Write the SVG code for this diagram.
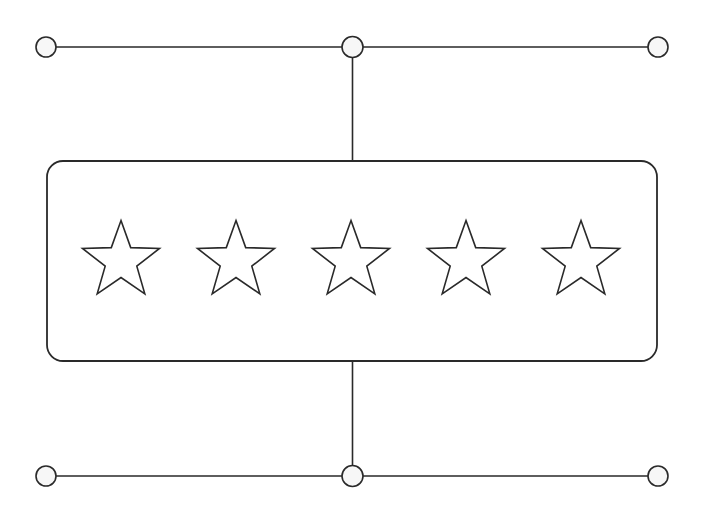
<svg xmlns="http://www.w3.org/2000/svg" width="706" height="523" viewBox="0 0 706 523">
<style>
.ln{stroke:#2a2a2a;stroke-width:1.6;fill:none;stroke-linecap:round}
.nd{stroke:#2a2a2a;stroke-width:1.6;fill:#f7f7f7}
.box{stroke:#2a2a2a;stroke-width:1.8;fill:#ffffff}
.star{stroke:#2a2a2a;stroke-width:1.6;fill:#ffffff;stroke-linejoin:miter}
</style>
<defs>
<path id="s" d="M0,-40.5 L9.7,-13.4 L38.5,-12.5 L15.8,5.1 L23.8,32.8 L0,16.5 L-23.8,32.8 L-15.8,5.1 L-38.5,-12.5 L-9.7,-13.4 Z"/>
</defs>
<rect width="706" height="523" fill="#ffffff"/>
<g id="connectors">
<line class="ln" x1="56" y1="47" x2="342" y2="47"/>
<line class="ln" x1="363" y1="47" x2="648" y2="47"/>
<line class="ln" x1="352.5" y1="58" x2="352.5" y2="161"/>
<line class="ln" x1="352.5" y1="361" x2="352.5" y2="465"/>
<line class="ln" x1="56" y1="476" x2="342" y2="476"/>
<line class="ln" x1="363" y1="476" x2="648" y2="476"/>
</g>
<g id="node-tl"><circle class="nd" cx="46" cy="47" r="10"/></g>
<g id="node-tm"><circle class="nd" cx="352.5" cy="47" r="10.5"/></g>
<g id="node-tr"><circle class="nd" cx="658" cy="47" r="10"/></g>
<g id="node-bl"><circle class="nd" cx="46" cy="476" r="10"/></g>
<g id="node-bm"><circle class="nd" cx="352.5" cy="476" r="10.5"/></g>
<g id="node-br"><circle class="nd" cx="658" cy="476" r="10"/></g>
<g id="rating">
<rect class="box" x="47" y="161" width="610" height="200" rx="16" ry="16"/>
<use href="#s" class="star" x="121" y="261"/>
<use href="#s" class="star" x="236" y="261"/>
<use href="#s" class="star" x="351" y="261"/>
<use href="#s" class="star" x="466" y="261"/>
<use href="#s" class="star" x="581" y="261"/>
</g>
</svg>
